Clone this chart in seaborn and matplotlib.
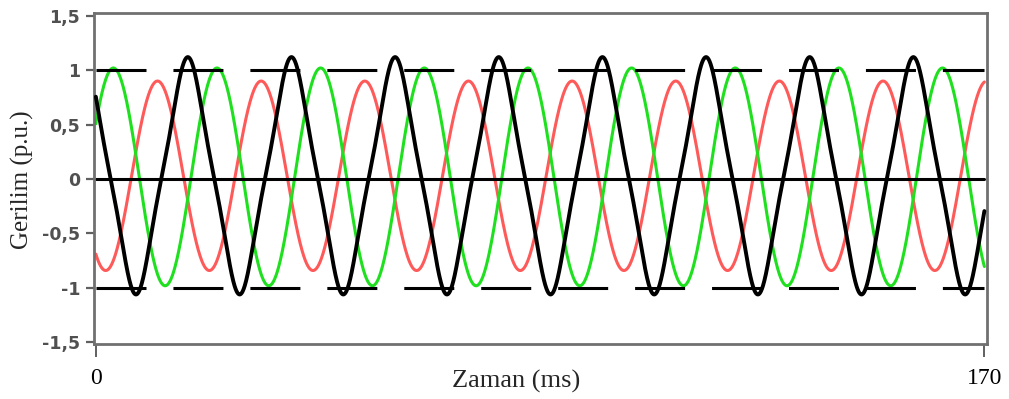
import numpy as np
import pandas as pd
import matplotlib
matplotlib.use("Agg")
import matplotlib.pyplot as plt
import seaborn as sns

# ---- data ----
x_range_ms = [0, 170]
period_ms = 19.83                        # one cycle of the phase voltages
series_names = ["Faz R", "Faz S", "Faz T"]
series_colors = ["#ff5a5a", "#1ee01e", "#000000"]
amplitude = [0.87, 1.00, 1.01]           # fundamental amplitude (p.u.)
third_harm = [0.00, 0.00, 0.08]          # peaked black phase
peak_time_ms = [11.8, 3.35, 17.6]        # time of first positive peak
dc_offset = [0.03, 0.02, 0.03]
ref_levels_dashed = [1.0, -1.0]
ref_level_solid = [0.0]
y_ticks = [-1.5, -1.0, -0.5, 0.0, 0.5, 1.0, 1.5]
y_tick_labels = ["-1,5", "-1", "-0,5", "0", "0,5", "1", "1,5"]
x_ticks = [0, 170]
x_tick_labels = ["0", "170"]

sns.set_style("white")
plt.rcParams["lines.scale_dashes"] = False

t = np.linspace(x_range_ms[0], x_range_ms[1], 3401)
frames = []
for name, a1, a3, tp, dc in zip(series_names, amplitude, third_harm, peak_time_ms, dc_offset):
    th = 2 * np.pi * (t - tp) / period_ms
    frames.append(pd.DataFrame({"t": t, "v": a1 * np.cos(th) + a3 * np.cos(3 * th) + dc, "faz": name}))
df = pd.concat(frames, ignore_index=True)

fig = plt.figure(figsize=(10.09, 3.99), dpi=100)
ax = fig.add_axes([94 / 1009, (399 - 344) / 399, (987 - 94) / 1009, (344 - 13) / 399])

lws = {"Faz R": 2.2, "Faz S": 2.2, "Faz T": 2.8}
for name, col in zip(series_names, series_colors):
    sns.lineplot(data=df[df["faz"] == name], x="t", y="v", color=col,
                 lw=lws[name], ax=ax, legend=False, zorder=3 if name == "Faz T" else 2)

ref_x = np.array(x_range_ms)
for lv in ref_levels_dashed:
    ax.plot(ref_x, [lv, lv], color="black", lw=2.2, dashes=(36, 19.4), solid_capstyle="butt", zorder=2.5)
for lv in ref_level_solid:
    ax.plot(ref_x, [lv, lv], color="black", lw=2.2, zorder=2.5)

ax.set_xlim(-0.35, 170.5)
ax.set_ylim(-1.515, 1.525)
ax.set_yticks(y_ticks)
ax.set_yticklabels(y_tick_labels, fontfamily="DejaVu Sans", fontsize=12.5,
                   color="#505050", fontweight="bold")
ax.set_xticks(x_ticks)
ax.set_xticklabels(x_tick_labels, fontfamily="Liberation Serif", fontsize=17, color="black")
ax.tick_params(axis="y", left=True, length=6, width=1.6, color="#606060", pad=4, direction="out")
ax.tick_params(axis="x", bottom=True, length=9, width=1.4, color="#606060", pad=8, direction="out")

for s in ax.spines.values():
    s.set_color("#707070")
    s.set_linewidth(2.0)

ax.set_xlabel("Zaman (ms)", fontfamily="Liberation Serif", fontsize=19)
ax.xaxis.set_label_coords((516 - 94) / (987 - 94), -(381 - 344) / (344 - 13))
ax.xaxis.label.set_verticalalignment("center")
ax.set_ylabel("Gerilim (p.u.)", fontfamily="Liberation Serif", fontsize=18)
ax.yaxis.set_label_coords(-(94 - 22) / (987 - 94), (344 - 180) / (344 - 13))
ax.yaxis.label.set_verticalalignment("center")

fig.savefig("out.png", dpi=100, facecolor="white")
